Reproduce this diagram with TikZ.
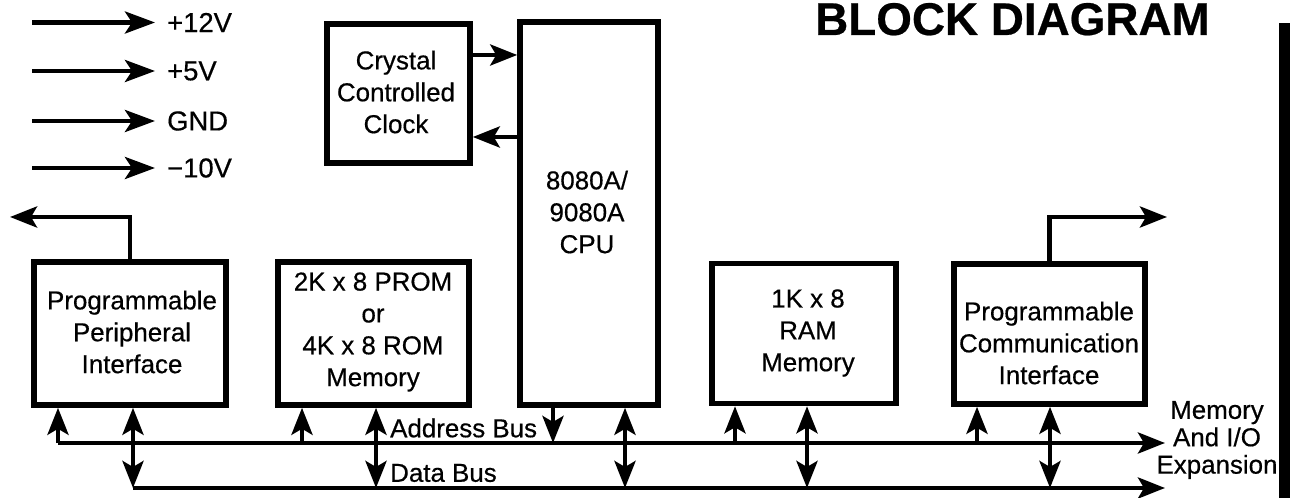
\documentclass[tikz,border=0pt]{standalone}
\usepackage{fontspec}
\setmainfont{Liberation Sans}[FakeBold=0.5]
\usepackage{pgf, tikz}
\usetikzlibrary{arrows.meta}
\pgfdeclarelayer{edgelayer}
\pgfdeclarelayer{nodelayer}
\pgfsetlayers{edgelayer,nodelayer,main}
\newcommand{\boxfont}{\fontsize{26}{32}\selectfont}
\newcommand{\powerfont}{\fontsize{27.5}{32}\selectfont}
\newcommand{\sidefont}{\fontsize{26}{27.5}\selectfont}
\newcommand{\titlefont}{\fontsize{46}{50}\selectfont\bfseries}
\tikzstyle{none}=[inner sep=0pt, font=\boxfont, align=center]
\tikzstyle{block}=[rectangle, draw=black, line width=5.5bp, inner sep=0pt]
\tikzstyle{bus}=[draw=black, line width=4.5bp]
\tikzstyle{feed}=[draw=black, line width=4.5bp, -{Stealth[length=30bp, width=22bp, inset=7bp]}]
\tikzset{>={Stealth[length=27bp, width=21bp, inset=6bp]}}

\begin{document}
\begin{tikzpicture}[x=1bp, y=-1bp]
			\useasboundingbox (0, 0) rectangle (1290, 498);
			\begin{pgfonlayer}{nodelayer}
			\node [style=block, minimum width=143bp, minimum height=139bp] (1) at (398.5, 93.5) {};
			\node [style=block, minimum width=138bp, minimum height=383bp] (2) at (589, 213.5) {};
			\node [style=block, minimum width=192bp, minimum height=143bp] (3) at (130, 333.5) {};
			\node [style=block, minimum width=191bp, minimum height=143bp] (4) at (373.5, 333.5) {};
			\node [style=block, minimum width=184bp, minimum height=140bp] (5) at (804, 333.5) {};
			\node [style=block, minimum width=191bp, minimum height=140bp] (6) at (1049.5, 334) {};
			\node [style=none] (7) at (396, 92) {Crystal\\Controlled\\Clock};
			\node [style=none] (8) at (587, 212) {8080A/\\9080A\\CPU};
			\node [style=none] (9) at (132, 332) {Programmable\\Peripheral\\Interface};
			\node [style=none] (10) at (373, 332) {2K x 8 PROM\\or\\4K x 8 ROM\\Memory};
			\node [style=none] (11) at (808, 333) {1K x 8\\RAM\\Memory};
			\node [style=none] (12) at (1049, 343) {Programmable\\Communication\\Interface};
			\node [style=none, font=\powerfont, anchor=west] (13) at (167, 22.5) {+12V};
			\node [style=none, font=\powerfont, anchor=west] (14) at (167, 71) {+5V};
			\node [style=none, font=\powerfont, anchor=west] (15) at (167, 121) {GND};
			\node [style=none, font=\powerfont, anchor=west] (16) at (167, 168) {−10V};
			\node [style=none, anchor=west] (17) at (390, 428) {Address Bus};
			\node [style=none, anchor=west] (18) at (390, 473) {Data Bus};
			\node [style=none, font=\sidefont] (19) at (1217, 440) {Memory\\And I/O\\Expansion};
			\node [style=none, font=\titlefont, anchor=base west] (20) at (815, 35) {BLOCK DIAGRAM};
			\coordinate (21) at (32, 22.5);
			\coordinate (22) at (32, 71);
			\coordinate (23) at (32, 121);
			\coordinate (24) at (32, 168);
			\coordinate (25) at (10, 217);
			\coordinate (26) at (1167, 217);
			\coordinate (27) at (58, 443);
			\coordinate (28) at (1165, 443);
			\coordinate (29) at (133, 488);
			\coordinate (30) at (1165, 488);
			\coordinate (31) at (302, 443);
			\coordinate (32) at (553, 443);
			\coordinate (33) at (735, 443);
			\coordinate (34) at (977, 443);
			\coordinate (35) at (376, 488);
			\coordinate (36) at (625, 488);
			\coordinate (37) at (807, 488);
			\coordinate (38) at (1050, 488);
			\end{pgfonlayer}
			\begin{pgfonlayer}{edgelayer}
			\draw [style=feed, shorten >=12bp] (21) to (13.west);
			\draw [style=feed, shorten >=12bp] (22) to (14.west);
			\draw [style=feed, shorten >=12bp] (23) to (15.west);
			\draw [style=feed, shorten >=12bp] (24) to (16.west);
			\draw [style=bus, ->] ([yshift=38.5bp]1.east) to ([yshift=38.5bp]1.east -| 2.west);
			\draw [style=bus, ->] ([yshift=-43.5bp]1.east -| 2.west) to ([yshift=-43.5bp]1.east);
			\draw [style=bus, ->] (3.north) |- (25);
			\draw [style=bus, ->] (6.north) |- (26);
			\draw [style=bus, ->] (27) to (28);
			\draw [style=bus, ->] (29) to (30);
			\draw [style=bus, ->] (27) to (27 |- 3.south);
			\draw [style=bus, ->] (31) to (31 |- 4.south);
			\draw [style=bus, ->] (32 |- 2.south) to (32);
			\draw [style=bus, ->] (33) to (33 |- 5.south);
			\draw [style=bus, ->] (34) to (34 |- 6.south);
			\draw [style=bus, <->] (29 |- 3.south) to (29);
			\draw [style=bus, <->] (35 |- 4.south) to (35);
			\draw [style=bus, <->] (36 |- 2.south) to (36);
			\draw [style=bus, <->] (37 |- 5.south) to (37);
			\draw [style=bus, <->] (38 |- 6.south) to (38);
			\fill [black] (1279, 23) rectangle (1290, 498);
			\end{pgfonlayer}
\end{tikzpicture}
\end{document}
